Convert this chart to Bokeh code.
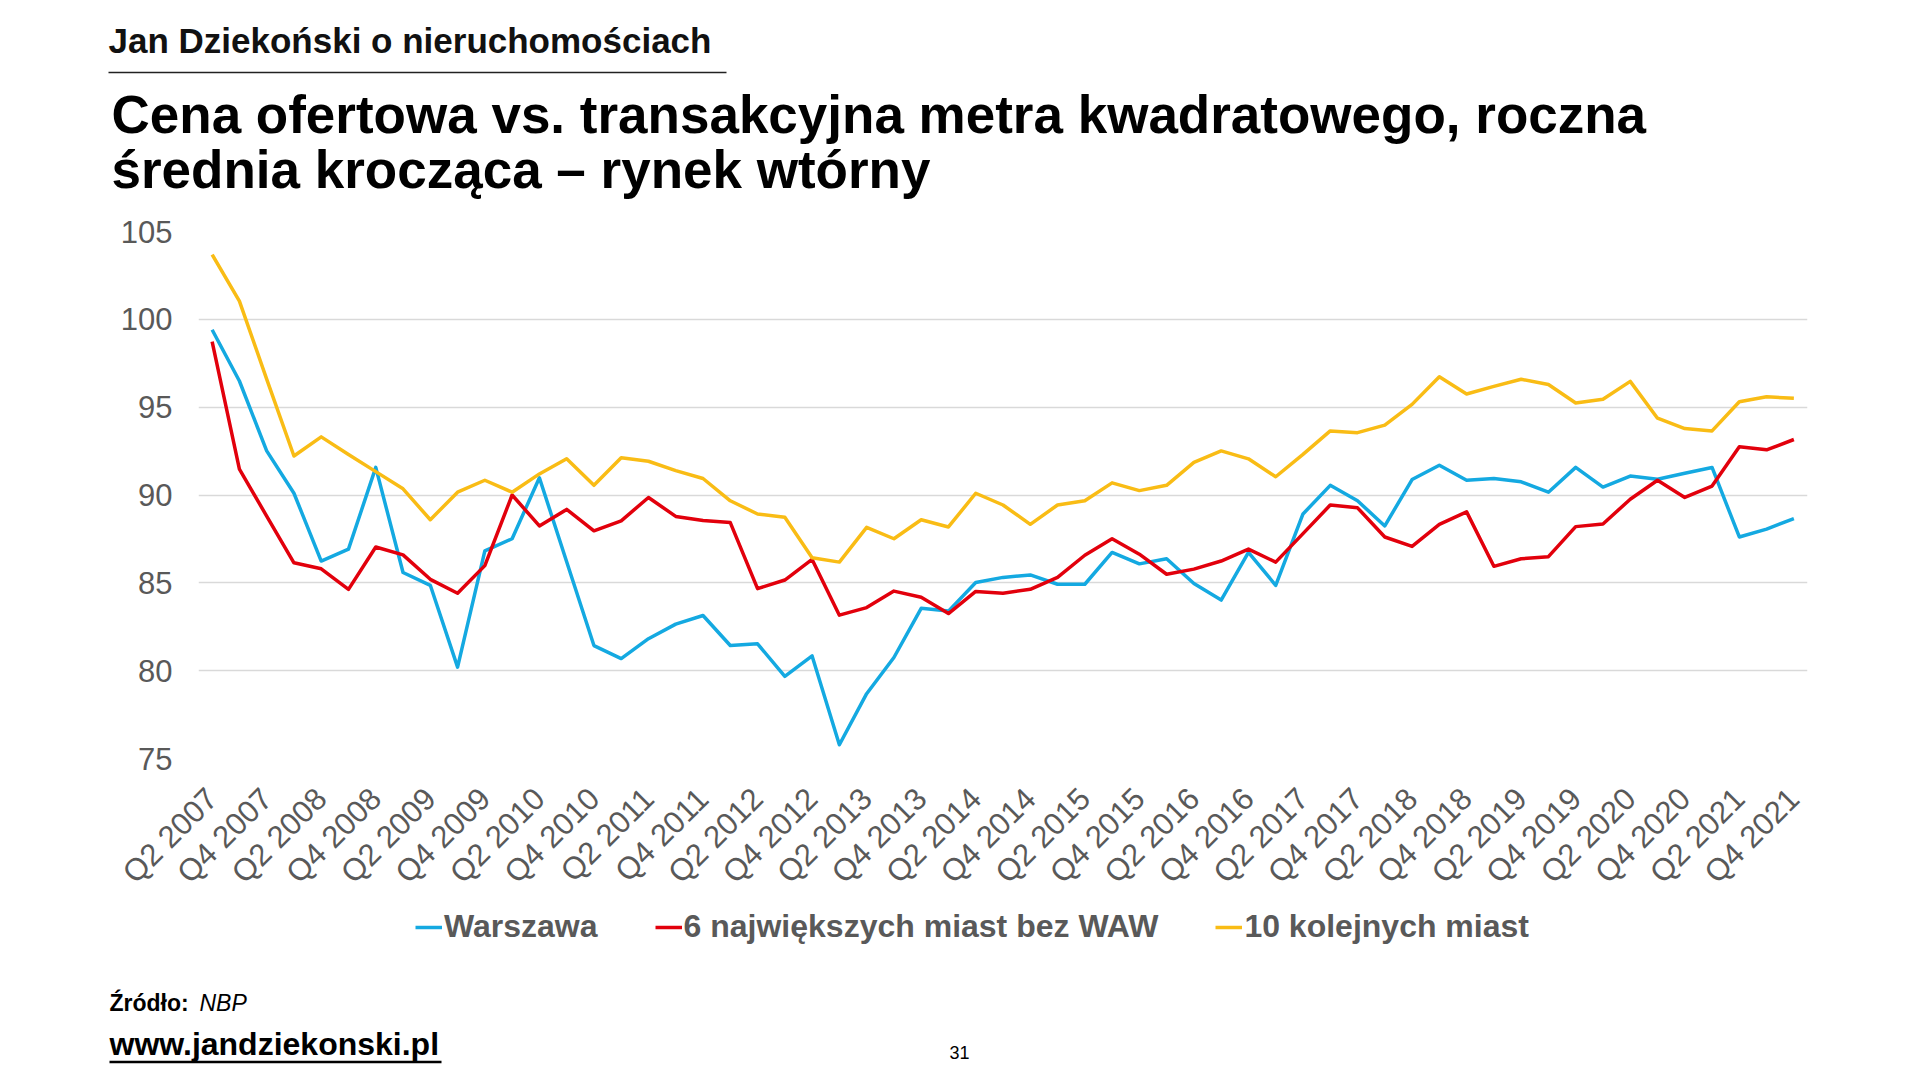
from bokeh.plotting import figure
from bokeh.models import Legend, LegendItem, FixedTicker, Range1d
from bokeh.layouts import column
from bokeh.core.properties import value
from bokeh.embed import file_html
from bokeh.resources import INLINE

quarters = [
    "Q2 2007", "Q3 2007", "Q4 2007",
    "Q1 2008", "Q2 2008", "Q3 2008", "Q4 2008",
    "Q1 2009", "Q2 2009", "Q3 2009", "Q4 2009",
    "Q1 2010", "Q2 2010", "Q3 2010", "Q4 2010",
    "Q1 2011", "Q2 2011", "Q3 2011", "Q4 2011",
    "Q1 2012", "Q2 2012", "Q3 2012", "Q4 2012",
    "Q1 2013", "Q2 2013", "Q3 2013", "Q4 2013",
    "Q1 2014", "Q2 2014", "Q3 2014", "Q4 2014",
    "Q1 2015", "Q2 2015", "Q3 2015", "Q4 2015",
    "Q1 2016", "Q2 2016", "Q3 2016", "Q4 2016",
    "Q1 2017", "Q2 2017", "Q3 2017", "Q4 2017",
    "Q1 2018", "Q2 2018", "Q3 2018", "Q4 2018",
    "Q1 2019", "Q2 2019", "Q3 2019", "Q4 2019",
    "Q1 2020", "Q2 2020", "Q3 2020", "Q4 2020",
    "Q1 2021", "Q2 2021", "Q3 2021", "Q4 2021",
]

warszawa = [99.41, 96.49, 92.51, 90.10, 86.24, 86.92, 91.57, 85.59, 84.86, 80.20,
            86.82, 87.51, 90.98, 86.20, 81.43, 80.69, 81.82, 82.65, 83.14, 81.43,
            81.53, 79.67, 80.84, 75.78, 78.69, 80.75, 83.55, 83.39, 85.02, 85.31,
            85.45, 84.92, 84.92, 86.73, 86.08, 86.37, 84.96, 84.02, 86.73, 84.86,
            88.92, 90.55, 89.67, 88.24, 90.88, 91.69, 90.84, 90.94, 90.75, 90.16,
            91.57, 90.45, 91.08, 90.90, 91.24, 91.57, 87.61, 88.06, 88.65]

szesc_miast = [98.73, 91.47, 88.80, 86.14, 85.80, 84.63, 87.04, 86.59, 85.20, 84.41,
               85.98, 90.00, 88.24, 89.18, 87.96, 88.53, 89.86, 88.78, 88.55, 88.43,
               84.67, 85.16, 86.33, 83.16, 83.59, 84.53, 84.18, 83.25, 84.51, 84.41,
               84.63, 85.31, 86.57, 87.51, 86.63, 85.49, 85.78, 86.24, 86.92, 86.18,
               87.80, 89.43, 89.27, 87.61, 87.07, 88.33, 89.04, 85.94, 86.37, 86.49,
               88.20, 88.35, 89.76, 90.84, 89.86, 90.51, 92.75, 92.57, 93.16]

dziesiec_miast = [103.69, 101.04, 96.60, 92.22, 93.31, 92.31, 91.33, 90.35, 88.59, 90.16,
                  90.84, 90.16, 91.20, 92.06, 90.55, 92.12, 91.92, 91.39, 90.94, 89.67,
                  88.92, 88.73, 86.43, 86.18, 88.16, 87.51, 88.59, 88.18, 90.10, 89.43,
                  88.33, 89.43, 89.67, 90.69, 90.25, 90.55, 91.86, 92.51, 92.06, 91.04,
                  92.31, 93.65, 93.55, 93.98, 95.16, 96.73, 95.75, 96.18, 96.59, 96.29,
                  95.24, 95.45, 96.47, 94.37, 93.78, 93.65, 95.31, 95.59, 95.51]

series_names = ["Warszawa", "6 największych miast bez WAW", "10 kolejnych miast"]
series_colors = ["#14A9E1", "#E2000C", "#F9BC15"]
y_ticks = [75, 80, 85, 90, 95, 100, 105]

header_text = "Jan Dziekoński o nieruchomościach"
title_lines = ["Cena ofertowa vs. transakcyjna metra kwadratowego, roczna",
               "średnia krocząca – rynek wtórny"]
source_label = "Źródło:"
source_name = "NBP"
website = "www.jandziekonski.pl"
page_number = "31"

FONT = "Liberation Sans"
GREY = "#595959"
W = 1904
H_TOP, H_MAIN, H_BOT = 205, 700, 159
BASE_SHIFT = 0.365  # rendered baseline sits this many em below the given y


def no_align(f):
    if "frame_align" in f.properties():
        f.frame_align = False


def blank_fig(h):
    f = figure(width=W, height=h, x_range=Range1d(0, W), y_range=Range1d(h, 0),
               x_axis_type=None, y_axis_type=None, output_backend="svg",
               toolbar_location=None, min_border=0, background_fill_color="white",
               border_fill_color="white")
    f.outline_line_color = None
    f.grid.visible = False
    no_align(f)
    return f


def put_text(f, x, baseline, text, size, style="normal", color="black", align="left"):
    y = baseline - BASE_SHIFT * size
    f.text(x=[x], y=[y], text=[text], text_font=value(FONT), text_font_size=value(f"{size}px"),
           text_font_style=style, text_color=color, text_align=align,
           text_baseline="alphabetic")


# ---- header ----
top = blank_fig(H_TOP)
put_text(top, 108, 53, header_text, 35, "bold", "#111111")
top.segment(x0=[108], y0=[72], x1=[726], y1=[72], line_color="#222222", line_width=1.5)
put_text(top, 111, 133, title_lines[0], 53, "bold")
put_text(top, 111, 188, title_lines[1], 53, "bold")

# ---- chart ----
x = list(range(len(quarters)))
FRAME_TOP, FRAME_H = 26, 531
p = figure(width=W, height=H_MAIN, output_backend="svg", toolbar_location=None,
           x_range=Range1d(-0.5, len(quarters) - 0.5), y_range=Range1d(75, 105),
           min_border_left=198, min_border_right=97, min_border_top=FRAME_TOP,
           min_border_bottom=H_MAIN - FRAME_TOP - FRAME_H,
           background_fill_color="white", border_fill_color="white")
no_align(p)
p.outline_line_color = None
p.xgrid.grid_line_color = None
p.ygrid.grid_line_color = "#D9D9D9"
p.ygrid.grid_line_width = 1.3

p.yaxis.ticker = FixedTicker(ticks=y_ticks)
p.yaxis.axis_line_color = None
p.yaxis.major_tick_line_color = None
p.yaxis.minor_tick_line_color = None
p.yaxis.major_label_text_font = FONT
p.yaxis.major_label_text_font_size = "31px"
p.yaxis.major_label_text_color = GREY
p.yaxis.major_label_standoff = 20

p.xaxis.ticker = FixedTicker(ticks=x[::2])
p.xaxis.major_label_overrides = {i: quarters[i] for i in x[::2]}
p.xaxis.major_label_orientation = 0.7854
p.xaxis.axis_line_color = None
p.xaxis.major_tick_line_color = None
p.xaxis.minor_tick_line_color = None
p.xaxis.major_label_text_font = FONT
p.xaxis.major_label_text_font_size = "31px"
p.xaxis.major_label_text_color = GREY
p.xaxis.major_label_standoff = 29

for vals, col in zip([warszawa, szesc_miast, dziesiec_miast], series_colors):
    p.line(x, vals, line_color=col, line_width=3.5, line_join="round")

# ---- footer with legend ----
bot = blank_fig(H_BOT)
nan = float("nan")
legend_renderers = [bot.line(x=[0, 1], y=[nan, nan], line_color=c, line_width=3.5)
                    for c in series_colors]
legend = Legend(items=[LegendItem(label=n, renderers=[r]) for n, r in zip(series_names, legend_renderers)],
                orientation="horizontal", location=(415, H_BOT - 40),
                label_text_font=FONT, label_text_font_size="32px", label_text_font_style="bold",
                label_text_color=GREY, glyph_width=27, glyph_height=32, label_height=32,
                label_standoff=2, spacing=57, padding=0, margin=0,
                border_line_alpha=0, background_fill_alpha=0)
bot.add_layout(legend)

F0 = H_TOP + H_MAIN  # page y of the footer's top edge
put_text(bot, 109, 1010.5 - F0, source_label, 23, "bold")
put_text(bot, 199, 1010.5 - F0, source_name, 23, "italic")
put_text(bot, 109, 1055 - F0, website, 32, "bold")
bot.segment(x0=[109], y0=[1061.5 - F0], x1=[441], y1=[1061.5 - F0], line_color="black", line_width=2.7)
put_text(bot, 959, 1059 - F0, page_number, 18, "normal", "black", "center")

layout = column(top, p, bot, spacing=0)
open("out.html", "w").write(file_html(layout, INLINE))
